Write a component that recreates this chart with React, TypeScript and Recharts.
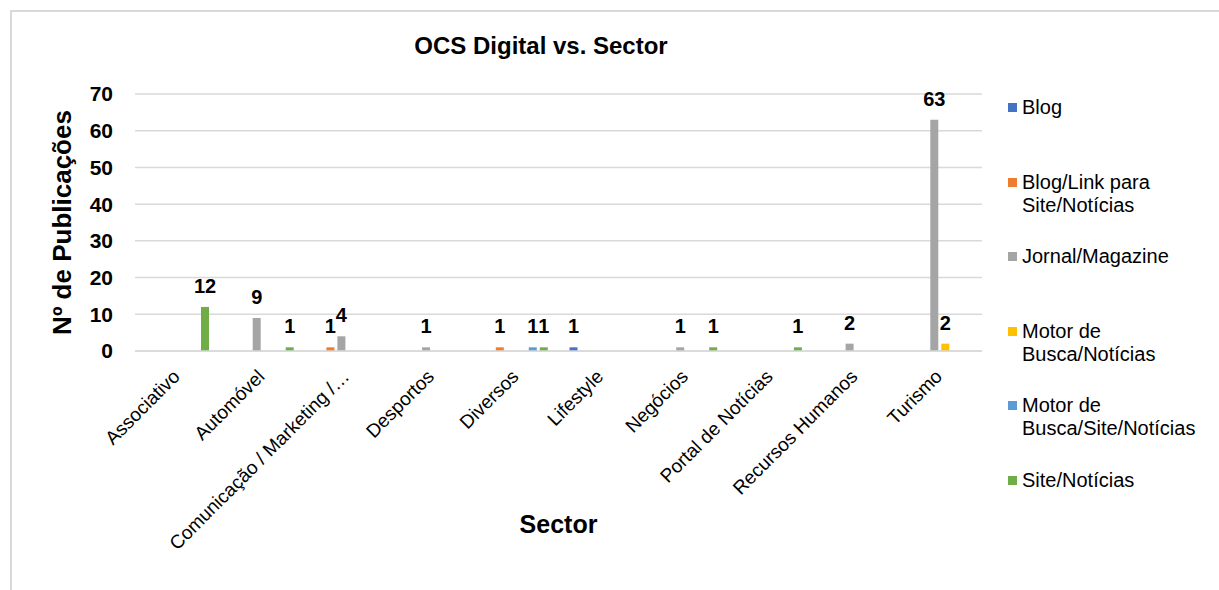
import { Bar, BarChart, CartesianGrid, Label, LabelList, Legend, XAxis, YAxis } from 'recharts'

const sectors = [
  'Associativo',
  'Automóvel',
  'Comunicação / Marketing /…',
  'Desportos',
  'Diversos',
  'Lifestyle',
  'Negócios',
  'Portal de Notícias',
  'Recursos Humanos',
  'Turismo',
]

const blog = [null, null, null, null, null, 1, null, null, null, null]
const blogLink = [null, null, 1, null, 1, null, null, null, null, null]
const jornal = [null, 9, 4, 1, null, null, 1, null, 2, 63]
const motorNoticias = [null, null, null, null, null, null, null, null, null, 2]
const motorSite = [null, null, null, null, 1, null, null, null, null, null]
const siteNoticias = [12, 1, null, null, 1, null, 1, 1, null, null]

const yTicks = [0, 10, 20, 30, 40, 50, 60, 70]

const series = [
  { key: 'blog', name: 'Blog', lines: ['Blog'], color: '#4472C4', values: blog },
  { key: 'blogLink', name: 'Blog/Link para Site/Notícias', lines: ['Blog/Link para', 'Site/Notícias'], color: '#ED7D31', values: blogLink },
  { key: 'jornal', name: 'Jornal/Magazine', lines: ['Jornal/Magazine'], color: '#A5A5A5', values: jornal },
  { key: 'motorNoticias', name: 'Motor de Busca/Notícias', lines: ['Motor de', 'Busca/Notícias'], color: '#FFC000', values: motorNoticias },
  { key: 'motorSite', name: 'Motor de Busca/Site/Notícias', lines: ['Motor de', 'Busca/Site/Notícias'], color: '#5B9BD5', values: motorSite },
  { key: 'siteNoticias', name: 'Site/Notícias', lines: ['Site/Notícias'], color: '#70AD47', values: siteNoticias },
]

const rows = sectors.map((sector, i) => {
  const row: Record<string, string | number | null> = { sector }
  for (const s of series) row[s.key] = s.values[i]
  return row
})

const font = '"Liberation Sans", Arial, sans-serif'

function ValueLabel(props: any) {
  const { x, y, width, value } = props
  if (value === null || value === undefined) return null
  return (
    <text
      x={x + width / 2}
      y={y - 14}
      textAnchor="middle"
      fontFamily={font}
      fontSize={20}
      fontWeight="bold"
      fill="#000"
    >
      {value}
    </text>
  )
}

function SectorTick(props: any) {
  const { x, y, payload } = props
  const tx = x - 1
  const ty = y + 14
  return (
    <text
      x={tx}
      y={ty}
      dy="0.35em"
      textAnchor="end"
      transform={`rotate(-45, ${tx}, ${ty})`}
      fontFamily={font}
      fontSize={19}
      fill="#000"
    >
      {payload.value}
    </text>
  )
}

function SideLegend() {
  return (
    <div style={{ fontFamily: font, fontSize: 20, color: '#000', lineHeight: '23px' }}>
      {series.map((s) => (
        <div key={s.key} style={{ height: 74.6, display: 'flex', alignItems: 'flex-start' }}>
          <span
            style={{
              width: 9,
              height: 9,
              background: s.color,
              marginTop: 7,
              marginRight: 5,
              flex: 'none',
            }}
          />
          <span>
            {s.lines.map((line) => (
              <div key={line}>{line}</div>
            ))}
          </span>
        </div>
      ))}
    </div>
  )
}

export default function App() {
  return (
    <div
      style={{
        position: 'absolute',
        left: 0,
        top: 0,
        width: 1219,
        height: 590,
        overflow: 'hidden',
        background: '#fff',
      }}
    >
      <div
        style={{
          position: 'absolute',
          left: 10,
          top: 10,
          width: 1240,
          height: 620,
          borderTop: '2px solid #d9d9d9',
          borderLeft: '2px solid #d9d9d9',
        }}
      />
      <div
        style={{
          position: 'absolute',
          left: 0,
          top: 32,
          width: 1082,
          textAlign: 'center',
          fontFamily: font,
          fontSize: 24,
          fontWeight: 'bold',
          color: '#000',
        }}
      >
        OCS Digital vs. Sector
      </div>
      <div style={{ position: 'absolute', left: 0, top: 0 }}>
        <BarChart
          width={1219}
          height={590}
          data={rows}
          margin={{ top: 94, right: 27, bottom: 54, left: 45 }}
          barCategoryGap={11}
          barGap={3}
        >
          <CartesianGrid vertical={false} stroke="#d9d9d9" strokeWidth={1.5} />
          <XAxis
            dataKey="sector"
            interval={0}
            height={185}
            tick={<SectorTick />}
            tickLine={false}
            axisLine={{ stroke: '#d9d9d9', strokeWidth: 1.5 }}
          >
            <Label
              value="Sector"
              position="insideBottom"
              offset={3}
              style={{ fontFamily: font, fontSize: 25, fontWeight: 'bold', fill: '#000' }}
            />
          </XAxis>
          <YAxis
            width={90}
            domain={[0, 70]}
            ticks={yTicks}
            interval={0}
            tickLine={false}
            axisLine={false}
            tickMargin={16}
            tick={{ fontFamily: font, fontSize: 21, fontWeight: 'bold', fill: '#000' }}
          >
            <Label
              content={(p: any) => {
                const vb = p.viewBox
                const cx = vb.x + 17
                const cy = vb.y + vb.height / 2
                return (
                  <text
                    x={cx}
                    y={cy}
                    dy="0.35em"
                    textAnchor="middle"
                    transform={`rotate(-90, ${cx}, ${cy})`}
                    fontFamily={font}
                    fontSize={26}
                    fontWeight="bold"
                    fill="#000"
                  >
                    Nº de Publicações
                  </text>
                )
              }}
            />
          </YAxis>
          <Legend
            layout="vertical"
            verticalAlign="top"
            align="right"
            content={<SideLegend />}
            wrapperStyle={{ left: 1008, top: 96, width: 210 }}
          />
          {series.map((s) => (
            <Bar key={s.key} dataKey={s.key} name={s.name} fill={s.color} isAnimationActive={false}>
              <LabelList dataKey={s.key} content={<ValueLabel />} />
            </Bar>
          ))}
        </BarChart>
      </div>
    </div>
  )
}
